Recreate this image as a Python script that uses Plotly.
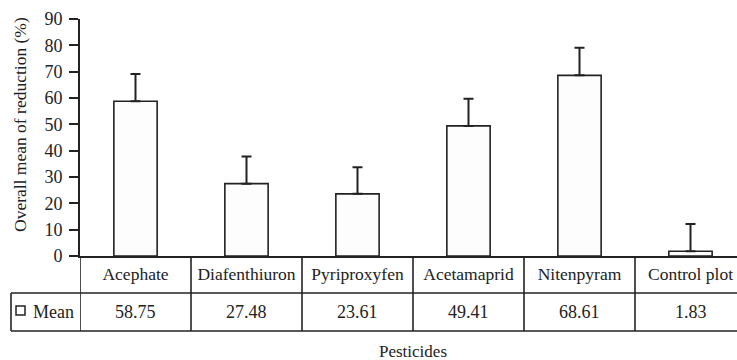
import plotly.graph_objects as go

categories = ["Acephate", "Diafenthiuron", "Pyriproxyfen", "Acetamaprid", "Nitenpyram", "Control plot"]
means = [58.75, 27.48, 23.61, 49.41, 68.61, 1.83]
mean_labels = ["58.75", "27.48", "23.61", "49.41", "68.61", "1.83"]
errors = [10.4, 10.3, 10.1, 10.3, 10.5, 10.3]
y_ticks = [0, 10, 20, 30, 40, 50, 60, 70, 80, 90]
y_title = "Overall mean of reduction (%)"
x_title = "Pesticides"

FONT = "Liberation Serif"
INK = "#222222"
W, H = 737, 360
AX_L, AX_T, AX_B = 80, 19, 256  # pixel positions of plot area
ML, MT, MB = AX_L, AX_T, H - AX_B
plot_h = H - MT - MB
plot_w = W - ML
cat_w = 111.0  # px per category

def py(px):  # pixel y -> paper y
    return (AX_B - px) / plot_h

def pxp(px):  # pixel x -> paper x
    return (px - AX_L) / plot_w

fig = go.Figure()
fig.add_trace(go.Bar(
    x=list(range(len(categories))), y=means, width=0.39,
    marker=dict(color="#fdfdfd", line=dict(color=INK, width=1.6)),
    error_y=dict(type="data", array=errors, arrayminus=[0] * len(errors), symmetric=False,
                 color=INK, thickness=2, width=5),
    showlegend=False, hoverinfo="skip",
))

shapes = []
row1 = py(293)
row2 = py(331)
for i in range(-1, len(categories) - 1):
    shapes.append(dict(type="line", xref="x", yref="paper", x0=i + 0.5, x1=i + 0.5,
                       y0=0, y1=row2, line=dict(color=INK, width=1.6)))
for yy in (row1, row2):
    shapes.append(dict(type="line", xref="paper", yref="paper", x0=pxp(11), x1=1.02,
                       y0=yy, y1=yy, line=dict(color=INK, width=1.6)))
shapes.append(dict(type="line", xref="paper", yref="paper", x0=pxp(11), x1=pxp(11),
                   y0=row1, y1=row2, line=dict(color=INK, width=1.6)))
shapes.append(dict(type="rect", xref="paper", yref="paper", x0=pxp(16), x1=pxp(25),
                   y0=py(315), y1=py(306), line=dict(color=INK, width=1.5), fillcolor="white"))

annotations = []
for i, lab in enumerate(mean_labels):
    annotations.append(dict(x=i, y=(row1 + row2) / 2, xref="x", yref="paper", text=lab,
                            showarrow=False, font=dict(family=FONT, size=18, color=INK),
                            xanchor="center", yanchor="middle"))
annotations.append(dict(x=pxp(76), y=(row1 + row2) / 2, xref="paper", yref="paper", text="Mean",
                        showarrow=False, font=dict(family=FONT, size=18, color=INK),
                        xanchor="right", yanchor="middle"))
annotations.append(dict(x=2.5, y=py(351), xref="x", yref="paper", text=x_title,
                        showarrow=False, font=dict(family=FONT, size=17, color=INK),
                        xanchor="center", yanchor="middle"))
annotations.append(dict(x=pxp(20), y=py(125), xref="paper", yref="paper", text=y_title,
                        textangle=-90, showarrow=False,
                        font=dict(family=FONT, size=17.5, color=INK),
                        xanchor="center", yanchor="middle"))

x_end = -0.5 + plot_w / cat_w

fig.update_layout(
    width=W, height=H,
    margin=dict(l=ML, r=0, t=MT, b=MB, pad=0),
    plot_bgcolor="white", paper_bgcolor="white",
    font=dict(family=FONT, size=18, color=INK),
    shapes=shapes, annotations=annotations,
    xaxis=dict(range=[-0.5, x_end], tickmode="array", tickvals=list(range(len(categories))),
               ticktext=categories, ticks="", showgrid=False, zeroline=False,
               showline=True, linecolor=INK, linewidth=1.6, ticklabeloverflow="allow",
               tickfont=dict(family=FONT, size=17.5, color=INK), ticklabelstandoff=1),
    yaxis=dict(range=[0, 90], tickmode="array", tickvals=y_ticks, ticks="outside", ticklen=9,
               tickwidth=1.5, tickcolor=INK, showgrid=False, zeroline=False,
               showline=True, linecolor=INK, linewidth=1.6,
               tickfont=dict(family=FONT, size=18, color=INK), ticklabelstandoff=3),
)

fig.write_html("out.html",
               config={"displayModeBar": False},
               post_script="document.body.style.margin='0';"
                           "document.documentElement.style.overflow='hidden';"
                           "document.body.style.overflow='hidden';")
